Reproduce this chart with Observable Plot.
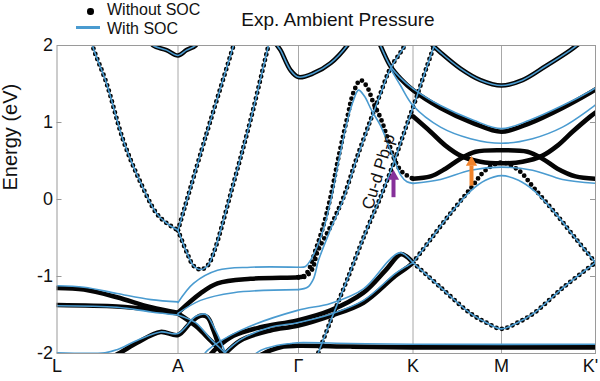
<!DOCTYPE html>
<html><head><meta charset="utf-8">
<script src="https://cdn.jsdelivr.net/npm/d3@7"></script>
<script src="https://cdn.jsdelivr.net/npm/@observablehq/plot@0.6"></script>
<style>
body{margin:0;background:#fff;}
#wrap{position:relative;width:600px;height:381px;font-family:'Liberation Sans',Arial,sans-serif;color:#111;}
#wrap svg{position:absolute;left:0;top:0}
.t{position:absolute;white-space:nowrap}
</style></head>
<body>
<div id="wrap">
  <div id="chart"></div>
  <div class="t" style="left:87px;top:8px;width:6.5px;height:6.5px;border-radius:50%;background:#000"></div>
  <div class="t" style="left:107px;top:2.2px;font-size:16px;line-height:16px">Without SOC</div>
  <div class="t" style="left:76px;top:26px;width:24px;height:2.5px;background:#4a9bd0"></div>
  <div class="t" style="left:107px;top:21.2px;font-size:16px;line-height:16px">With SOC</div>
  <div class="t" style="left:338px;top:9.7px;font-size:19px;line-height:19px;transform:translateX(-50%)">Exp. Ambient Pressure</div>
</div>
<script>
// k-path positions of high-symmetry points and their labels
const kTicks = [0, 121, 241.5, 356, 444.5, 538.5];
const kLabels = ["L", "A", "Γ", "K", "M", "K'"];
const eTicks = [-2, -1, 0, 1, 2];

// ---- Without SOC: steep (dotted) bands ----
const ns_LA  = [[34,2.10],[36.2,1.97],[49.5,1.51],[66.2,0.77],[82.5,0.25],[99.5,-0.18],[110,-0.31],[121,-0.40]];
const ns_AV  = [[121,-0.40],[130.2,-0.70],[136.5,-0.86],[143.5,-0.91],[150.5,-0.86],[156.5,-0.70],[176.5,0.21],[193.5,1.03],[211.5,2.00],[214,2.12]];
const ns_AUp = [[121,-0.40],[148.5,0.81],[176.5,2.00],[179,2.11]];
const ns_P   = [[241.5,-1.01],[246.5,-1.00],[251.5,-0.92],[258.5,-0.66],[265.5,-0.38],[273.5,0.03],[281.5,0.55],[290.2,1.06],[296.5,1.39],[303.5,1.55],[310.2,1.46],[316.5,1.25],[323.5,1.06],[330.2,0.81],[336.5,0.55],[343.5,0.38],[350.2,0.31],[356,0.27]];
const ns_Q   = [[241.5,-1.01],[248.5,-1.00],[255.5,-0.90],[260.2,-0.69],[273.5,-0.35],[286.8,0.04],[299.5,0.53],[313.5,1.03],[323.5,1.38],[333.5,1.71],[343.5,1.91],[351.5,2.08]];
const ns_S   = [[257.5,-2.12],[260.2,-2.03],[273.5,-1.58],[290.2,-1.04],[308.5,-0.43],[323.5,0.03],[336.5,0.47],[348.5,0.92],[358.5,1.29],[370.5,1.75],[377.5,2.01],[379.5,2.09]];
const ns_Cap = [[356,-0.82],[373.5,-0.52],[393.5,-0.18],[413.5,0.14],[428.5,0.38],[444.5,0.48],[461.5,0.38],[477.5,0.14],[498.5,-0.18],[519.5,-0.52],[538.5,-0.82]];
const ns_Cup = [[356,-0.82],[383.5,-1.14],[413.5,-1.48],[429.5,-1.60],[444.5,-1.68],[460.5,-1.60],[476.5,-1.48],[506.5,-1.14],[538.5,-0.82]];

// ---- Without SOC: flat (solid) bands ----
const ns_UA  = [[91.5,2.09],[96.2,2.00],[109.5,1.94],[121,1.87],[129.5,1.94],[138.5,2.00],[142.5,2.09]];
const ns_UG  = [[215.5,2.09],[220.2,2.00],[223.5,1.94],[233.5,1.68],[241.5,1.59],[256.5,1.64],[273.5,1.77],[290.2,2.00],[294,2.08]];
const ns_B1  = [[0,-1.15],[27,-1.17],[60,-1.27],[94,-1.40],[121,-1.47]];
const ns_B2  = [[0,-1.37],[60,-1.39],[94,-1.43],[121,-1.48]];
const ns_B3  = [[0,-2.05],[50,-2.04],[58.5,-2.02],[80,-1.86],[103.5,-1.72],[121,-1.76],[133.5,-1.60],[143.5,-1.51],[150.5,-1.53],[156.5,-1.70],[163.5,-1.96],[167.5,-2.09]];
const ns_M1  = [[121,-1.48],[138.5,-1.64],[153.5,-1.83],[165.5,-1.99],[171.5,-2.06]];
const ns_C1  = [[121,-1.47],[143.5,-1.22],[160.5,-1.09],[193.5,-1.03],[241.5,-1.01],[246.5,-1.00]];
const ns_J   = [[148.5,-2.09],[160.5,-1.92],[176.5,-1.77],[203.5,-1.66],[240.5,-1.57],[273.5,-1.44],[306.5,-1.21],[328.5,-0.92],[343.5,-0.71],[349.5,-0.74],[356,-0.82]];
const ns_K2  = [[165.5,-2.04],[183.5,-1.83],[213.5,-1.70],[240.5,-1.64],[273.5,-1.51],[306.5,-1.34],[338.5,-0.99],[350.5,-0.88],[356,-0.82]];
const ns_Flat= [[188.5,-2.12],[200.5,-2.04],[213.5,-1.96],[226.5,-1.91],[240.5,-1.90],[293.5,-1.91],[356,-1.92],[444.5,-1.92],[538.5,-1.92]];
const ns_G   = [[320.5,2.09],[325.5,1.94],[333.5,1.73],[343.5,1.57],[356,1.42],[383.5,1.19],[416.5,0.99],[444.5,0.88],[472.5,0.99],[505.5,1.19],[533.5,1.39],[538.5,1.43]];
const ns_F   = [[356,1.08],[373.5,0.88],[388.5,0.70],[403.5,0.57],[423.5,0.49],[444.5,0.47],[465.5,0.49],[485.5,0.57],[500.5,0.70],[515.5,0.88],[533.5,1.08],[538.5,1.13]];
const ns_D   = [[356,0.27],[373.5,0.30],[388.5,0.40],[403.5,0.53],[418.5,0.62],[444.5,0.64],[470.5,0.62],[485.5,0.53],[500.5,0.40],[518.5,0.30],[538.5,0.27]];
const ns_UM  = [[368.5,2.09],[383.5,1.91],[403.5,1.70],[423.5,1.55],[444.5,1.48],[465.5,1.55],[488.5,1.73],[513.5,1.94],[523.5,2.04],[528.5,2.10]];

// ---- With SOC ----
const s_B1   = [[0,-1.12],[27,-1.14],[60,-1.22],[94,-1.30],[121,-1.33]];
const s_B2   = [[0,-1.38],[60,-1.40],[94,-1.46],[121,-1.50]];
const s_B3   = [[0,-1.99],[48,-1.99],[60,-1.95],[80,-1.83],[103.5,-1.72],[121,-1.74],[138.5,-1.52],[148.5,-1.49],[158.5,-1.70],[168.5,-1.99],[172,-2.09]];
const s_M1   = [[121,-1.50],[138.5,-1.60],[153.5,-1.81],[168.5,-2.00],[174,-2.08]];
const s_C1u  = [[121,-1.34],[136.5,-1.09],[160.5,-0.92],[193.5,-0.88],[241.5,-0.88]];
const s_C1l  = [[121,-1.48],[143.5,-1.31],[176.5,-1.21],[241.5,-1.17]];
const s_P    = [[241.5,-0.88],[248.5,-0.87],[253.5,-0.79],[260.5,-0.60],[267.5,-0.34],[274.5,0.03],[282.5,0.55],[290.5,1.03],[296.5,1.29],[301.5,1.42],[307.5,1.34],[314.5,1.16],[323.5,0.96],[330.5,0.74],[337.5,0.51],[343.5,0.32],[350,0.23],[356,0.21]];
const s_Q    = [[241.5,-1.17],[250.5,-1.14],[256.5,-1.03],[261.5,-0.79],[273.5,-0.39],[286.8,0.02],[299.5,0.52],[313.5,1.02],[323.5,1.37],[333.5,1.70],[343.5,1.91],[351.5,2.06]];
const s_J    = [[143.5,-2.09],[150.5,-1.96],[183.5,-1.70],[240.5,-1.44],[273.5,-1.35],[306.5,-1.16],[333.5,-0.77],[343.5,-0.69],[356,-0.82]];
const s_K2   = [[165.5,-2.02],[183.5,-1.82],[213.5,-1.66],[240.5,-1.60],[273.5,-1.49],[306.5,-1.31],[338.5,-0.96],[350.5,-0.86],[356,-0.82]];
const s_Flat = [[193.5,-2.06],[203.5,-1.96],[218.5,-1.90],[233.5,-1.87],[240.5,-1.86],[293.5,-1.87],[356,-1.88],[538.5,-1.88]];
const s_G    = [[320.5,2.09],[325.5,1.94],[333.5,1.73],[343.5,1.58],[356,1.44],[383.5,1.22],[416.5,1.03],[444.5,0.92],[472.5,1.03],[505.5,1.22],[533.5,1.41],[538.5,1.45]];
const s_H    = [[333.5,1.70],[343.5,1.48],[356,1.22],[383.5,0.94],[413.5,0.79],[444.5,0.73],[475.5,0.79],[505.5,0.94],[533.5,1.18],[538.5,1.23]];
const s_D    = [[356,0.21],[383.5,0.26],[413.5,0.38],[444.5,0.42],[475.5,0.38],[505.5,0.26],[538.5,0.21]];
const s_Cap  = [[356,-0.82],[373.5,-0.52],[393.5,-0.18],[413.5,0.11],[428.5,0.25],[444.5,0.31],[461.5,0.25],[477.5,0.11],[498.5,-0.18],[519.5,-0.52],[538.5,-0.82]];

// annotations
const noteText = "Cu-d Pb-p";
const notePos = [321.5, 0.36];
const purpleArrow = {k: 336.5, from: 0.03, to: 0.27, head: 0.30};
const orangeArrow = {k: 414.5, from: 0.18, to: 0.44, head: 0.48};

const dottedNoSOC = [ns_LA, ns_AV, ns_AUp, ns_P, ns_Q, ns_S, ns_Cap, ns_Cup];
const solidNoSOC  = [ns_UA, ns_UG, ns_B1, ns_B2, ns_B3, ns_M1, ns_C1, ns_J, ns_K2, ns_Flat, ns_G, ns_F, ns_D, ns_UM];
const withSOC = [ns_LA, ns_AV, ns_AUp, ns_S, ns_Cup, ns_UA, ns_UG, ns_UM,
  s_B1, s_B2, s_B3, s_M1, s_C1u, s_C1l, s_P, s_Q, s_J, s_K2, s_Flat, s_G, s_H, s_D, s_Cap];

const rows = bands => bands.flatMap((b, i) => b.map(([k, E]) => ({band: i, k, E})));

const BLUE = "#4a9bd0";
const chart = Plot.plot({
  width: 600, height: 381,
  marginLeft: 56.5, marginRight: 5, marginTop: 45, marginBottom: 28,
  x: {domain: [0, 538.5], axis: null},
  y: {domain: [-2, 2], axis: null},
  style: {fontFamily: "'Liberation Sans', Arial, sans-serif", background: "white", color: "#111"},
  marks: [
    Plot.ruleX(kTicks.slice(1, 5), {stroke: "#a8a8a8", strokeWidth: 1}),
    Plot.line(rows(solidNoSOC), {x: "k", y: "E", z: "band", curve: "catmull-rom", stroke: "#050505", strokeWidth: 4.6, clip: true}),
    Plot.line(rows(dottedNoSOC), {x: "k", y: "E", z: "band", curve: "catmull-rom", stroke: "#050505", strokeWidth: 4.8, strokeDasharray: "0 5.6", strokeLinecap: "round", clip: true}),
    Plot.line(rows(withSOC), {x: "k", y: "E", z: "band", curve: "catmull-rom", stroke: BLUE, strokeWidth: 1.6, clip: true}),
    Plot.ruleY(eTicks.slice(1, 4), {x1: 0, x2: 5, stroke: "#999"}),
    Plot.ruleY(eTicks.slice(1, 4), {x1: 533.5, x2: 538.5, stroke: "#999"}),
    Plot.frame({stroke: "#9a9a9a"}),
    Plot.link([purpleArrow], {x1: "k", x2: "k", y1: "from", y2: "to", stroke: "#86309a", strokeWidth: 4}),
    Plot.dot([purpleArrow], {x: "k", y: "head", symbol: "triangle", r: 4.2, fill: "#86309a"}),
    Plot.link([orangeArrow], {x1: "k", x2: "k", y1: "from", y2: "to", stroke: "#f0822a", strokeWidth: 4}),
    Plot.dot([orangeArrow], {x: "k", y: "head", symbol: "triangle", r: 4.2, fill: "#f0822a"}),
    Plot.text([noteText], {x: () => notePos[0], y: () => notePos[1], rotate: -73, fontSize: 17, fill: "#111"}),
    Plot.axisY(eTicks, {tickSize: 0, tickPadding: 4, fontSize: 18, tickFormat: d => String(d), label: null}),
    Plot.text(["Energy (eV)"], {frameAnchor: "left", dx: -46, dy: -9, rotate: -90, fontSize: 20}),
    Plot.text(kTicks.slice(0, 5), {x: d => d, text: (d, i) => kLabels[i], frameAnchor: "bottom", dy: 18, fontSize: 18}),
    Plot.text([kTicks[5]], {x: d => d, text: () => kLabels[5], frameAnchor: "bottom", dy: 18, dx: -5, fontSize: 18})
  ]
});
document.getElementById("chart").appendChild(chart);
</script>
</body></html>
